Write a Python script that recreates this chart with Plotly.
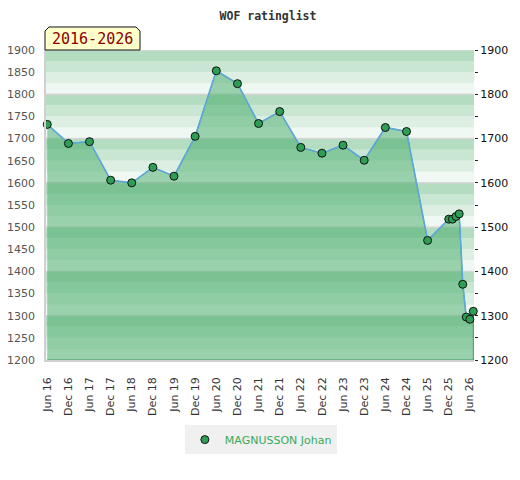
import plotly.graph_objects as go

# rating history
dates = ["2016-06-01", "2016-12-01", "2017-06-01", "2017-12-01", "2018-06-01",
         "2018-12-01", "2019-06-01", "2019-12-01", "2020-06-01", "2020-12-01",
         "2021-06-01", "2021-12-01", "2022-06-01", "2022-12-01", "2023-06-01",
         "2023-12-01", "2024-06-01", "2024-12-01", "2025-06-01", "2025-12-01",
         "2026-01-01", "2026-02-01", "2026-03-01", "2026-04-01", "2026-05-01",
         "2026-06-01", "2026-07-01"]
ratings = [1732, 1689, 1693, 1606, 1600, 1635, 1615, 1705, 1853, 1824,
           1734, 1761, 1680, 1667, 1685, 1651, 1725, 1716, 1470, 1518,
           1518, 1524, 1530, 1371, 1297, 1292, 1310]
player = "MAGNUSSON Johan"
period = "2016-2026"

tick_dates = ["%d-%02d-01" % (2016 + i // 2, 6 if i % 2 == 0 else 12) for i in range(21)]
tick_text = [("Jun " if i % 2 == 0 else "Dec ") + str(16 + i // 2) for i in range(21)]

ymin, ymax = 1200, 1900
left_ticks = list(range(ymin, ymax + 1, 50))
right_text = [str(v) if v % 100 == 0 else "" for v in left_ticks]

fig = go.Figure()

# filled area under the curve (closed down to the axis bottom)
fig.add_trace(go.Scatter(
    x=dates + [dates[-1], dates[0]], y=ratings + [ymin, ymin],
    fill="toself", fillcolor="rgba(57,165,93,0.47)",
    mode="lines", line=dict(color="#3c9c5c", width=1),
    hoverinfo="skip", showlegend=False))
fig.add_trace(go.Scatter(
    x=dates, y=ratings, mode="lines",
    line=dict(color="#5ea6dc", width=1.6), showlegend=False))
fig.add_trace(go.Scatter(
    x=dates, y=ratings, mode="markers", name=player, cliponaxis=False,
    marker=dict(size=8, color="#2f9e55", line=dict(color="#111", width=1))))
# dummy trace for the right axis
fig.add_trace(go.Scatter(x=[dates[0]], y=[ymin], yaxis="y2", mode="markers",
                         marker=dict(opacity=0), showlegend=False, hoverinfo="skip"))

# background bands, 4 per hundred, darkest at the top
band_cols = ["#f0f8f3", "#ddefe3", "#c9e6d3", "#b3dcc0"]
for b in range(ymin, ymax, 25):
    fig.add_shape(type="rect", xref="paper", yref="y", x0=0, x1=1, y0=b, y1=b + 25,
                  fillcolor=band_cols[(b % 100) // 25], line_width=0, layer="below")
for h in range(ymin + 100, ymax + 1, 100):
    fig.add_shape(type="line", xref="paper", yref="y", x0=0, x1=1, y0=h, y1=h,
                  line=dict(color="#d6d6d6", width=1.5), layer="below")

# period badge with cut corners
px, py = 1 / 428, 1 / 310
x0, x1, y0, y1, c = -1 * px, 94 * px, 1, 1 + 23 * py, 4
fig.add_shape(type="path", xref="paper", yref="paper",
              path="M %f,%f L %f,%f L %f,%f L %f,%f L %f,%f L %f,%f Z" % (
                  x0, y0, x0, y1 - c * py, x0 + c * px, y1, x1 - c * px, y1,
                  x1, y1 - c * py, x1, y0),
              fillcolor="#ffffcc", line=dict(color="#111", width=1))
fig.add_annotation(x=(x0 + x1) / 2, y=1 + 11 * py, xref="paper", yref="paper",
                   xanchor="center", yanchor="middle", text=period, showarrow=False,
                   font=dict(family="DejaVu Sans Mono", size=15, color="#8b0000"))

# the page body adds an 8px offset, so margins are shifted back by 8
fig.update_layout(
    width=520, height=480,
    margin=dict(l=38, r=54, t=42, b=128),
    paper_bgcolor="white", plot_bgcolor="white",
    title=dict(text="<b>WOF ratinglist</b>", x=0.5, xanchor="center", y=1 - 7.5 / 480,
               yanchor="middle",
               font=dict(family="DejaVu Sans Mono", size=11.5, color="#333")),
    xaxis=dict(type="date", range=["2016-05-21", "2026-07-07"], automargin=False,
               tickvals=tick_dates, ticktext=tick_text, tickangle=-90,
               tickfont=dict(family="DejaVu Sans", size=11, color="#333"),
               showgrid=False, zeroline=False, ticks="", ticklabelstandoff=11,
               showline=True, linecolor="#d0d0d0", linewidth=1.5),
    yaxis=dict(range=[ymin, ymax], tickvals=left_ticks, showgrid=False, zeroline=False,
               automargin=False,
               tickfont=dict(family="DejaVu Sans", size=11, color="#555"),
               ticks="", ticklabelstandoff=7,
               showline=True, linecolor="#d0d0d0", linewidth=1.5),
    yaxis2=dict(range=[ymin, ymax], overlaying="y", side="right", automargin=False,
                tickvals=left_ticks, ticktext=right_text, showgrid=False, zeroline=False,
                ticks="outside", ticklen=3, tickcolor="#222",
                tickfont=dict(family="DejaVu Sans", size=11, color="#111")),
    legend=dict(orientation="h", x=0.502, xanchor="center", y=-0.21, yanchor="top",
                bgcolor="#f0f0f0", font=dict(family="DejaVu Sans", size=11, color="#3aaa5a")),
)

fig.write_html("out.html")
